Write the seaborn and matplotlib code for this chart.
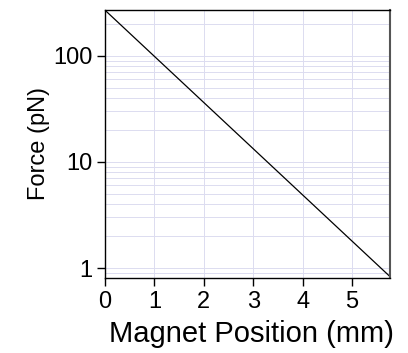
import matplotlib
matplotlib.use("Agg")
import matplotlib.pyplot as plt
import seaborn as sns
import pandas as pd
import numpy as np
from matplotlib.ticker import LogLocator

position_mm = [0.0, 5.77]
force_pN = [270.0, 0.83]
x_ticks = [0, 1, 2, 3, 4, 5]
y_ticks = [1, 10, 100]
y_tick_labels = ["1", "10", "100"]

sns.set_style("white")
plt.rcParams['font.family'] = ['Liberation Sans', 'DejaVu Sans']
plt.rcParams['text.color'] = 'black'
plt.rcParams['axes.labelcolor'] = 'black'
plt.rcParams['xtick.color'] = 'black'
plt.rcParams['ytick.color'] = 'black'

df = pd.DataFrame({"pos": position_mm, "force": force_pN})

fig = plt.figure(figsize=(4.08, 3.53), dpi=100)
ax = fig.add_axes([105/408, 1-278/353, 285/408, 268/353])
sns.lineplot(data=df, x="pos", y="force", ax=ax, color="black", linewidth=0.9)
ax.set_yscale("log")
ax.set_xlim(0, 5.77)
ax.set_ylim(0.805, 271)
ax.set_xticks(x_ticks)
ax.set_yticks(y_ticks)
ax.set_yticklabels(y_tick_labels)
ax.yaxis.set_minor_locator(LogLocator(base=10, subs=np.arange(2, 10)))
ax.grid(True, which="both", axis="y", color="#dcdcf0", linewidth=0.7)
ax.grid(True, which="major", axis="x", color="#dcdcf0", linewidth=0.7)
ax.tick_params(axis="both", which="major", direction="out", length=6, width=1, color="black",
               labelcolor="black", labelsize=17, pad=3, left=True, bottom=True)
ax.tick_params(axis="y", which="minor", length=0)
for s in ax.spines.values():
    s.set_color("black")
    s.set_linewidth(1.0)
ax.spines["right"].set_color("#555555")
ax.spines["right"].set_linewidth(1.5)
ax.set_xlabel("Magnet Position (mm)", fontsize=21, labelpad=4, color="black")
ax.set_ylabel("Force (pN)", fontsize=17, labelpad=2, color="black")
ax.xaxis.set_label_coords(0.515, -0.155)
fig.savefig("out.png", dpi=100)
